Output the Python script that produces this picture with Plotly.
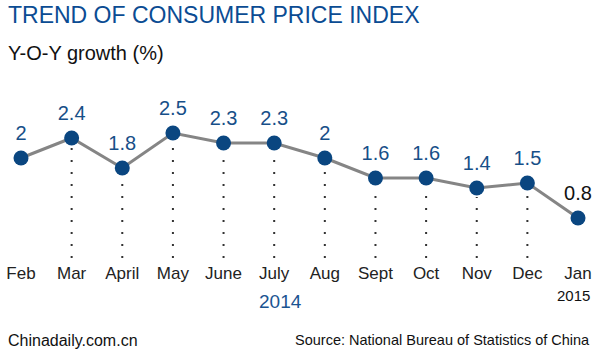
import plotly.graph_objects as go

months = ["Feb", "Mar", "April", "May", "June", "July", "Aug", "Sept", "Oct", "Nov", "Dec", "Jan"]
cpi = [2.0, 2.4, 1.8, 2.5, 2.3, 2.3, 2.0, 1.6, 1.6, 1.4, 1.5, 0.8]
value_labels = ["2", "2.4", "1.8", "2.5", "2.3", "2.3", "2", "1.6", "1.6", "1.4", "1.5", "0.8"]
label_colors = ["#174f88"] * 11 + ["#111111"]

xs = list(range(len(months)))
FONT = "Liberation Sans, Arial, sans-serif"

PLOT_TOP, PLOT_BOTTOM = 108, 258


def py(ypx):
    # convert a pixel row to paper coordinates of the plot area
    return (PLOT_BOTTOM - ypx) / (PLOT_BOTTOM - PLOT_TOP)


fig = go.Figure()
fig.add_trace(go.Scatter(
    x=xs, y=cpi, mode="lines+markers",
    line=dict(color="#858585", width=3),
    marker=dict(color="#0a4680", size=15),
    cliponaxis=False, hoverinfo="skip",
))
fig.add_trace(go.Scatter(
    x=xs, y=cpi, mode="markers+text",
    marker=dict(size=19, opacity=0),
    text=value_labels, textposition="top center",
    textfont=dict(family=FONT, size=20, color=label_colors),
    cliponaxis=False, hoverinfo="skip",
))

shapes = []
for i, v in enumerate(cpi):
    if 0 < i < len(cpi) - 1:
        shapes.append(dict(type="line", xref="x", yref="y", x0=i, x1=i, y0=0, y1=v - 0.18,
                           line=dict(color="#333333", width=2, dash="2px,10px"), layer="below"))
shapes.append(dict(type="line", xref="x", yref="y", x0=xs[0], x1=xs[-1], y0=-0.03, y1=-0.03,
                   line=dict(color="#2a2a2a", width=3)))

fig.update_layout(
    width=600, height=354,
    margin=dict(l=0, r=0, t=PLOT_TOP, b=354 - PLOT_BOTTOM),
    paper_bgcolor="white", plot_bgcolor="white",
    showlegend=False,
    shapes=shapes,
    xaxis=dict(range=[-0.4147, 11.434], tickmode="array", tickvals=xs, ticktext=months,
               showgrid=False, zeroline=False, showline=False, ticks="",
               tickfont=dict(family=FONT, size=17, color="#222222"), ticklabelstandoff=3,
               fixedrange=True),
    yaxis=dict(range=[0, 3.0], visible=False, fixedrange=True),
)

ann = [
    dict(text="TREND OF CONSUMER PRICE INDEX", x=0.0, y=py(15), xshift=6,
         xanchor="left", yanchor="middle", font=dict(family=FONT, size=23, color="#0b4c93")),
    dict(text="Y-O-Y growth (%)", x=0.0, y=py(53), xshift=6,
         xanchor="left", yanchor="middle", font=dict(family=FONT, size=20, color="#111111")),
    dict(text="2014", x=280 / 600, y=py(301),
         xanchor="center", yanchor="middle", font=dict(family=FONT, size=19, color="#1a5491")),
    dict(text="2015", x=573 / 600, y=py(295),
         xanchor="center", yanchor="middle", font=dict(family=FONT, size=15, color="#111111")),
    dict(text="Chinadaily.com.cn", x=0.0, y=py(340), xshift=6,
         xanchor="left", yanchor="middle", font=dict(family=FONT, size=16, color="#111111")),
    dict(text="Source: National Bureau of Statistics of China", x=1.0, y=py(340), xshift=-8,
         xanchor="right", yanchor="middle", font=dict(family=FONT, size=14.5, color="#111111")),
]
for a in ann:
    fig.add_annotation(xref="paper", yref="paper", showarrow=False, **a)

fig.write_html("out.html")
